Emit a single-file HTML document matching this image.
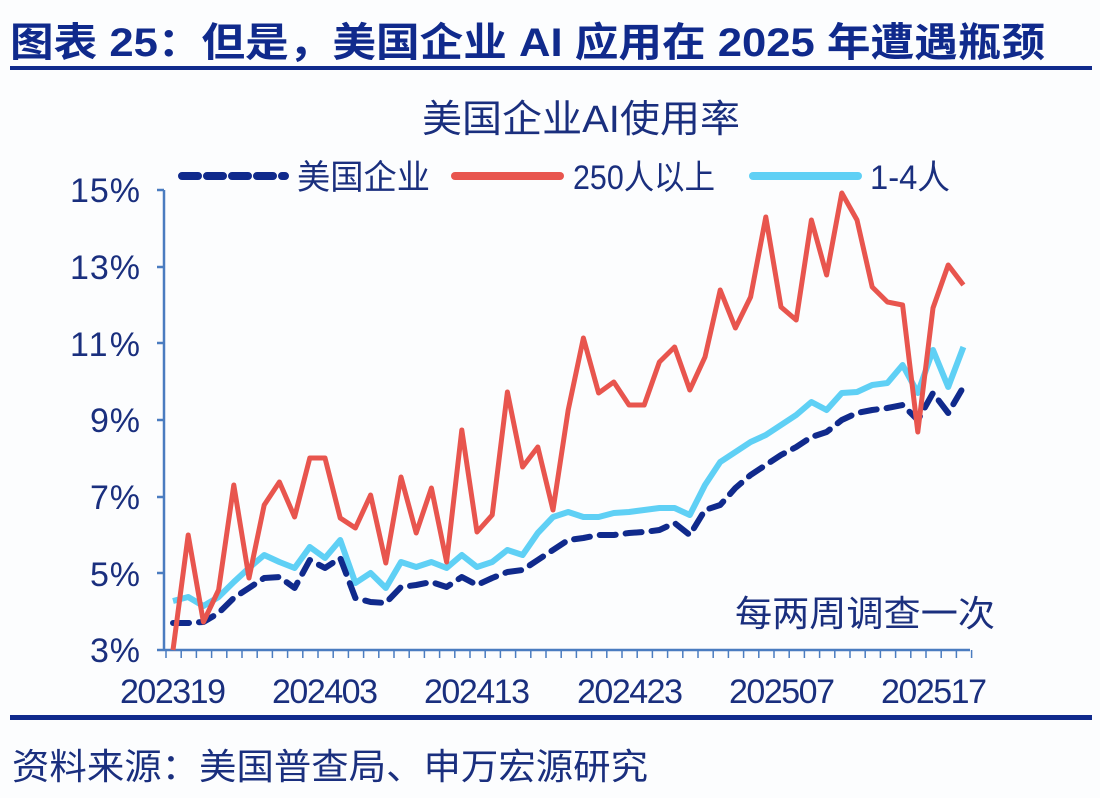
<!DOCTYPE html>
<html><head><meta charset="utf-8"><style>
html,body{margin:0;padding:0;background:#fcfdfe;}
body{width:1100px;height:798px;position:relative;overflow:hidden;font-family:"Liberation Sans","Noto Sans CJK SC",sans-serif;}
</style></head><body>
<svg width="1100" height="798" viewBox="0 0 1100 798" style="position:absolute;left:0;top:0">
<text x="10" y="56" font-size="40" font-weight="bold" fill="#102a8c" textLength="1035" lengthAdjust="spacingAndGlyphs" font-family="Liberation Sans, Noto Sans CJK SC, sans-serif">图表 25：但是，美国企业 AI 应用在 2025 年遭遇瓶颈</text>
<rect x="10" y="66" width="1082" height="4" fill="#102a8c"/>
<rect x="10" y="715" width="1082" height="5" fill="#102a8c"/>
<text x="422" y="132" font-size="38" fill="#1a2f7e" textLength="318" lengthAdjust="spacingAndGlyphs" font-family="Liberation Sans, Noto Sans CJK SC, sans-serif">美国企业AI使用率</text>
<line x1="182" y1="176" x2="285" y2="176" stroke="#102a8c" stroke-width="8" stroke-dasharray="16,9" stroke-linecap="round"/>
<text x="297" y="189" font-size="34" fill="#1a2f7e" textLength="133" lengthAdjust="spacingAndGlyphs" font-family="Liberation Sans, Noto Sans CJK SC, sans-serif">美国企业</text>
<line x1="455" y1="176" x2="560" y2="176" stroke="#e8554e" stroke-width="8" stroke-linecap="round"/>
<text x="573" y="189" font-size="34" fill="#1a2f7e" textLength="142" lengthAdjust="spacingAndGlyphs" font-family="Liberation Sans, Noto Sans CJK SC, sans-serif">250人以上</text>
<line x1="753" y1="176" x2="858" y2="176" stroke="#5fd0f5" stroke-width="8" stroke-linecap="round"/>
<text x="870" y="189" font-size="34" fill="#1a2f7e" textLength="80" lengthAdjust="spacingAndGlyphs" font-family="Liberation Sans, Noto Sans CJK SC, sans-serif">1-4人</text>
<g stroke="#4a7cc0" stroke-width="2.5" fill="none">
<line x1="164" y1="190" x2="164" y2="651"/>
<line x1="164" y1="650" x2="970" y2="650"/>
<path d="M157 190H164M157 267H164M157 343H164M157 420H164M157 497H164M157 573H164M157 650H164"/>
</g>
<path id="xt" stroke="#4a7cc0" stroke-width="1.5" d=""/>
<g font-size="34" fill="#1a2f7e" font-family="Liberation Sans, sans-serif" lengthAdjust="spacingAndGlyphs">
<text x="70" y="202" textLength="70">15%</text><text x="70" y="279" textLength="70">13%</text><text x="70" y="356" textLength="70">11%</text><text x="90" y="432" textLength="50">9%</text><text x="90" y="509" textLength="50">7%</text><text x="90" y="586" textLength="50">5%</text><text x="90" y="662" textLength="50">3%</text>
</g>
<g font-size="34" fill="#1a2f7e" font-family="Liberation Sans, sans-serif" lengthAdjust="spacingAndGlyphs">
<text x="120" y="703" textLength="106">202319</text><text x="272" y="703" textLength="106">202403</text><text x="424" y="703" textLength="106">202413</text><text x="577" y="703" textLength="106">202423</text><text x="729" y="703" textLength="106">202507</text><text x="881" y="703" textLength="106">202517</text>
</g>
<text x="735" y="626" font-size="36" fill="#1a2f7e" textLength="260" lengthAdjust="spacingAndGlyphs" font-family="Liberation Sans, Noto Sans CJK SC, sans-serif">每两周调查一次</text>
<text x="12" y="779" font-size="36" fill="#1a2f7e" textLength="636" lengthAdjust="spacingAndGlyphs" font-family="Liberation Sans, Noto Sans CJK SC, sans-serif">资料来源：美国普查局、申万宏源研究</text>
<g id="lines" fill="none" stroke-linejoin="round"></g>
</svg>
<script>
var R=[650,535,622,590,485,578,505,482,517,458,458,518,528,495,563,477,533,488,562,430,532,515,392,467,447,510,410,338,393,382,405,405,362,347,390,357,290,328,297,217,307,320,220,275,193,220,287,302,305,432,308,265,285];
var B=[601,597,606,597,582,568,555,562,568,547,558,540,583,573,588,562,567,562,568,555,567,562,550,555,533,517,512,517,517,513,512,510,508,508,515,485,462,452,442,435,425,415,402,410,393,392,385,383,365,393,350,387,347];
var D=[623,623,622,613,598,588,578,577,588,560,568,558,598,602,603,587,585,582,587,577,585,578,572,570,560,550,540,538,535,535,533,532,530,523,535,510,505,488,475,465,455,447,437,432,420,413,410,408,405,420,393,413,387];
function pts(a){return a.map(function(y,i){return (173+i*15.2).toFixed(1)+","+y}).join(" ");}
var g=document.getElementById("lines");
g.innerHTML='<polyline points="'+pts(B)+'" stroke="#5fd0f5" stroke-width="6"/>'+
'<polyline points="'+pts(D)+'" stroke="#102a8c" stroke-width="6" stroke-dasharray="16,10" stroke-linecap="round"/>'+
'<polyline points="'+pts(R)+'" stroke="#e8554e" stroke-width="5"/>';
var d="";for(var i=0;i<=53;i++){var x=(166+i*15.2).toFixed(1);d+="M"+x+" 650V658";}
document.getElementById("xt").setAttribute("d",d);
</script>
</body></html>
